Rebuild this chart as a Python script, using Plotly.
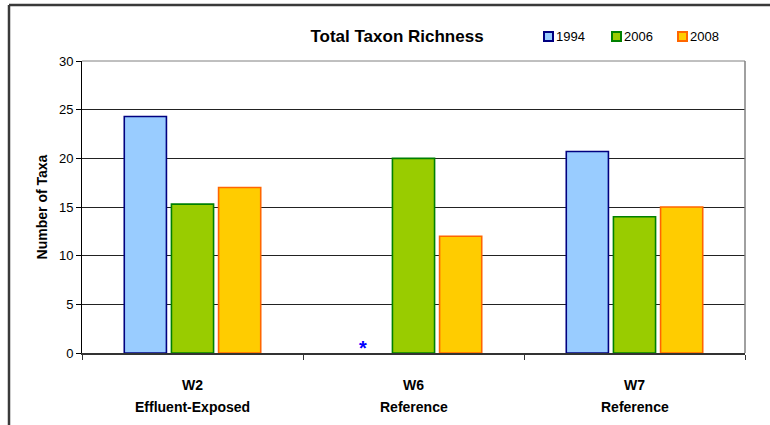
import plotly.graph_objects as go

# Sites and survey years
site_codes = ["W2", "W6", "W7"]
site_types = ["Effluent-Exposed", "Reference", "Reference"]
years = ["1994", "2006", "2008"]
taxa_1994 = [24.3, None, 20.7]
taxa_2006 = [15.3, 20.0, 14.0]
taxa_2008 = [17.0, 12.0, 15.0]

fills = ["#99CCFF", "#99CC00", "#FFCC00"]
edges = ["#000080", "#008000", "#FF6600"]

W, H = 770, 425
ML, MR, MT, MB = 82, 25, 61, 72
PW, PH = W - ML - MR, H - MT - MB

FONT = "Arial, 'Liberation Sans', sans-serif"


def px_to_paper_x(px):
    return (px - ML) / PW


def px_to_paper_y(py):
    return 1 + (MT - py) / PH


fig = go.Figure()
for yr, vals, fc, ec in zip(years, [taxa_1994, taxa_2006, taxa_2008], fills, edges):
    fig.add_trace(go.Bar(
        x=site_codes, y=vals, name=yr,
        marker=dict(color=fc, line=dict(color=ec, width=1.6)),
        showlegend=False,
    ))

shapes = [
    # outer chart frame (left and top edges)
    dict(type="line", xref="paper", yref="paper",
         x0=px_to_paper_x(9), x1=px_to_paper_x(9),
         y0=px_to_paper_y(5), y1=px_to_paper_y(H + 5),
         line=dict(color="#3a3a3a", width=2.5)),
    dict(type="line", xref="paper", yref="paper",
         x0=px_to_paper_x(9), x1=px_to_paper_x(W + 5),
         y0=px_to_paper_y(5), y1=px_to_paper_y(5),
         line=dict(color="#3a3a3a", width=2.5)),
    # plot area border, top and right
    dict(type="line", xref="paper", yref="paper", x0=0, x1=1, y0=1, y1=1,
         line=dict(color="#808080", width=1)),
    dict(type="line", xref="paper", yref="paper", x0=1, x1=1, y0=0, y1=1,
         line=dict(color="#808080", width=1.5)),
    # blank slot on the axis where the 1994 W6 bar would sit
    dict(type="line", xref="x", yref="y", x0=0.715, x1=0.83, y0=0, y1=0,
         line=dict(color="white", width=2)),
]

annotations = []

# legend: small outlined squares with year labels
legend_px = [544, 612, 678]
for yr, fc, ec, lx in zip(years, fills, edges, legend_px):
    shapes.append(dict(type="rect", xref="paper", yref="paper",
                       x0=px_to_paper_x(lx), x1=px_to_paper_x(lx + 9),
                       y0=px_to_paper_y(32), y1=px_to_paper_y(41),
                       fillcolor=fc, line=dict(color=ec, width=2)))
    annotations.append(dict(xref="paper", yref="paper",
                            x=px_to_paper_x(lx + 10), y=px_to_paper_y(36.5),
                            xanchor="left", yanchor="middle", showarrow=False,
                            text=yr, font=dict(size=13, family=FONT)))

# two-line category labels below the axis
for code, kind in zip(site_codes, site_types):
    annotations.append(dict(xref="x", yref="paper", x=code, y=px_to_paper_y(385),
                            yanchor="middle", showarrow=False, text=f"<b>{code}</b>",
                            font=dict(size=14, family=FONT)))
    annotations.append(dict(xref="x", yref="paper", x=code, y=px_to_paper_y(407),
                            yanchor="middle", showarrow=False, text=f"<b>{kind}</b>",
                            font=dict(size=14, family=FONT)))

# missing 1994 sample at W6
annotations.append(dict(x=site_codes[1], y=0, xref="x", yref="y", text="<b>*</b>",
                        showarrow=False, xshift=-51, yshift=5,
                        font=dict(size=20, color="#0000FF", family=FONT)))

fig.update_layout(
    width=W, height=H,
    margin=dict(l=ML, r=MR, t=MT, b=MB),
    paper_bgcolor="white", plot_bgcolor="white",
    font=dict(family=FONT, size=12, color="black"),
    barmode="group", bargap=0.36, bargroupgap=0.106,
    title=dict(text="<b>Total Taxon Richness</b>", x=397 / W,
               xanchor="center", y=1 - 36 / H, yanchor="middle",
               font=dict(size=17, family=FONT)),
    shapes=shapes,
    annotations=annotations,
    showlegend=False,
)

fig.update_yaxes(
    range=[0, 30], tickvals=[0, 5, 10, 15, 20, 25, 30],
    showgrid=True, gridcolor="#222222", gridwidth=1,
    showline=True, linecolor="black", linewidth=1,
    ticks="outside", ticklen=5, tickcolor="black",
    tickfont=dict(size=13), zeroline=False,
    title=dict(text="<b>Number of Taxa</b>", font=dict(size=14), standoff=8),
)
fig.update_xaxes(
    showline=True, linecolor="#333333", linewidth=1.5,
    ticks="outside", tickson="boundaries", ticklen=5, tickcolor="#333333",
    showticklabels=False,
)

fig.write_html("out.html")
